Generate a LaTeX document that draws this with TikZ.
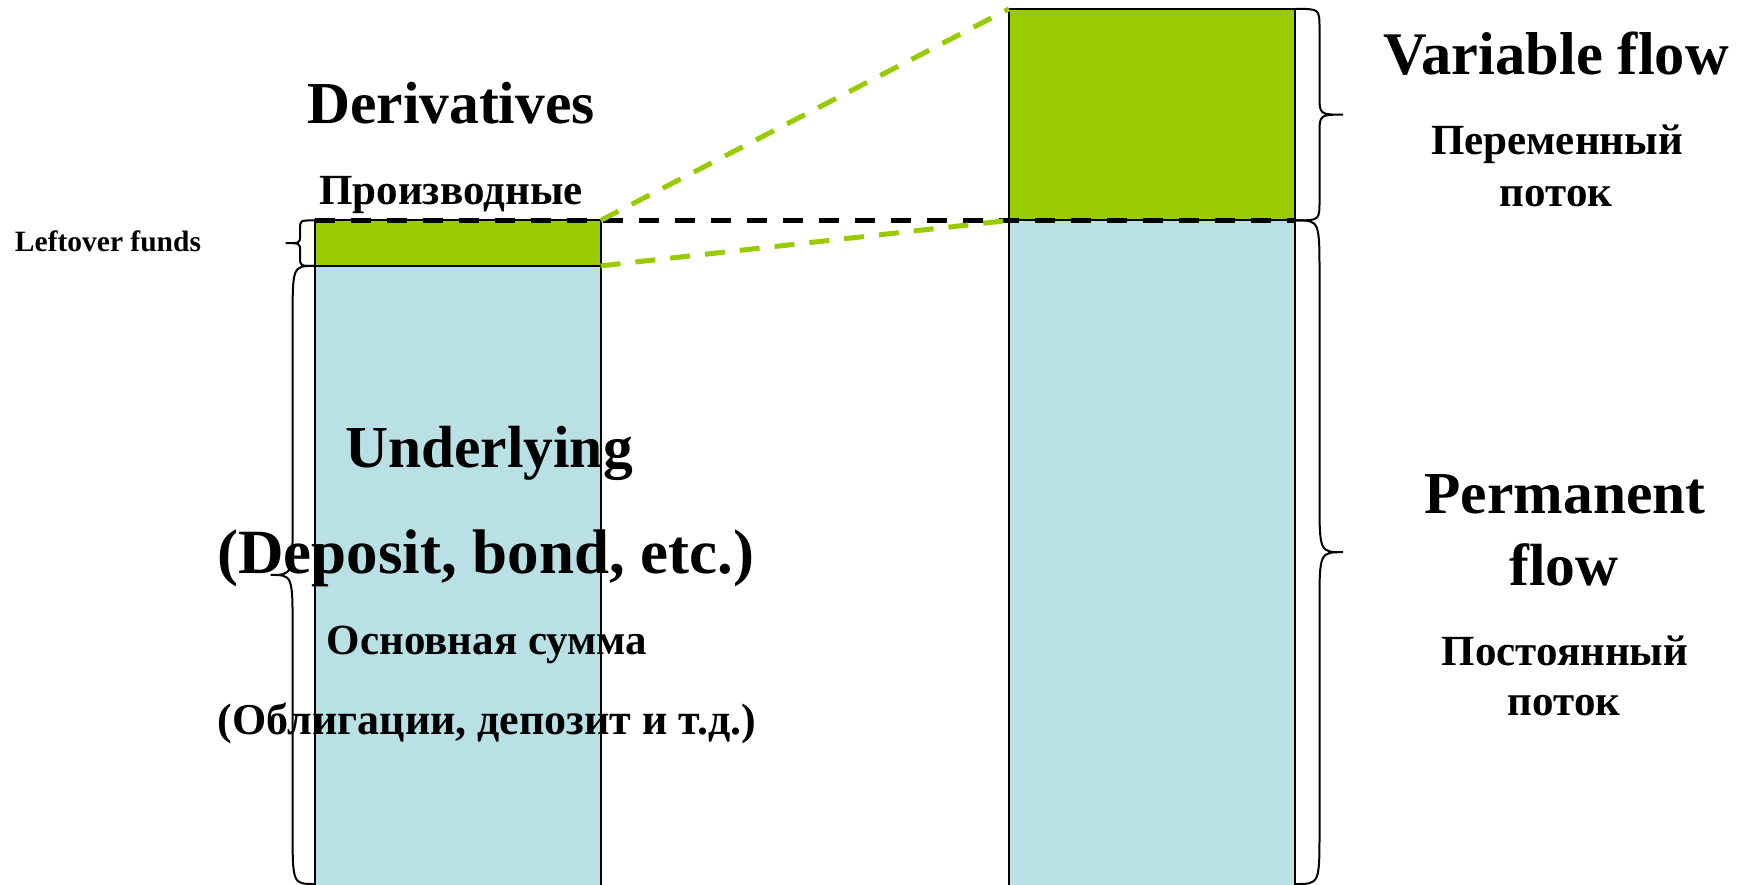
\documentclass[tikz,border=0pt]{standalone}
\usepackage{fontspec}
\setmainfont{Liberation Serif}
\definecolor{lgreen}{HTML}{99CC00}
\definecolor{lblue}{HTML}{B9E0E4}
\newcommand\mybrace[5]{%
\draw[bracestyle] (#1,#2) .. controls ({#1+#4/2},#2) .. ({#1+#4/2},{#2+#5}) -- ({#1+#4/2},{(#2+#3)/2-#5}) .. controls ({#1+#4/2},{(#2+#3)/2}) .. ({#1+#4},{(#2+#3)/2}) .. controls ({#1+#4/2},{(#2+#3)/2}) .. ({#1+#4/2},{(#2+#3)/2+#5}) -- ({#1+#4/2},{#3-#5}) .. controls ({#1+#4/2},#3) .. (#1,#3);}
\begin{document}
\begin{tikzpicture}[x=1pt,y=-1pt,
  barfill/.style={inner sep=0, outer sep=0, anchor=north west, minimum width=286pt},
  barline/.style={draw=black, line width=2pt},
  bracestyle/.style={draw=black, line width=2pt},
  kdash/.style={draw=black, line width=5pt, dash pattern=on 20pt off 16pt},
  gdash/.style={draw=lgreen, line width=5pt, dash pattern=on 20pt off 15pt},
  bigtxt/.style={font=\bfseries\fontsize{59.5}{60}\selectfont, inner sep=0, anchor=base},
  rutxt/.style={font=\bfseries\fontsize{43}{44}\selectfont, inner sep=0, anchor=base},
  smalltxt/.style={font=\bfseries\fontsize{29.5}{30}\selectfont, inner sep=0, anchor=base}]
\useasboundingbox (0,0) rectangle (1737,885);
\clip (0,0) rectangle (1737,885);
% bars (fills)
\node[barfill, fill=lgreen, minimum height=45.5pt] (lg) at (314.6,220.4) {};
\node[barfill, fill=lblue, minimum height=630pt] (lb) at (314.6,265.9) {};
\node[barfill, fill=lgreen, minimum height=211.5pt] (rg) at (1009,8.9) {};
\node[barfill, fill=lblue, minimum height=675pt] (rb) at (1009,220.4) {};
% texts
\node[bigtxt] (der) at (451,124) {Derivatives};
\node[rutxt] (proizv) at (451,205) {Производные};
\node[smalltxt] (left) at (108,252) {Leftover funds};
\node[bigtxt] (under) at (489,467) {Underlying};
\node[bigtxt, font=\bfseries\fontsize{63}{64}\selectfont] (dep) at (486,573) {(Deposit, bond, etc.)};
\node[rutxt] (osn) at (487,654) {Основная сумма};
\node[rutxt, font=\bfseries\fontsize{44}{45}\selectfont] (obl) at (487,734) {(Облигации, депозит и т.д.)};
\node[bigtxt, font=\bfseries\fontsize{60.5}{61}\selectfont] (var) at (1556,75) {Variable flow};
\node[rutxt] (per) at (1557,155) {Переменный};
\node[rutxt] (potok1) at (1556,207) {поток};
\node[bigtxt] (perm) at (1565,513) {Permanent};
\node[bigtxt] (flow) at (1564,585) {flow};
\node[rutxt] (post) at (1565,665) {Постоянный};
\node[rutxt] (potok2) at (1564,715) {поток};
% outlines
\draw[barline] (lg.north west) rectangle (lg.south east);
\draw[barline] (lb.north west) rectangle (lb.south east);
\draw[barline] (rg.north west) rectangle (rg.south east);
\draw[barline] (rb.north west) rectangle (rb.south east);
% braces
\mybrace{314.6}{220.4}{265.9}{-29}{8}
\mybrace{314.6}{265.9}{884}{-44}{55}
\mybrace{1296}{8.9}{220.4}{47}{20}
\mybrace{1296}{220.4}{884}{47}{55}
% dashed connectors
\draw[kdash] (lg.north west) -- (rg.south east);
\draw[gdash] (lg.north east) -- (rg.north west);
\draw[gdash] (lg.south east) -- (rb.north west);
\end{tikzpicture}
\end{document}
